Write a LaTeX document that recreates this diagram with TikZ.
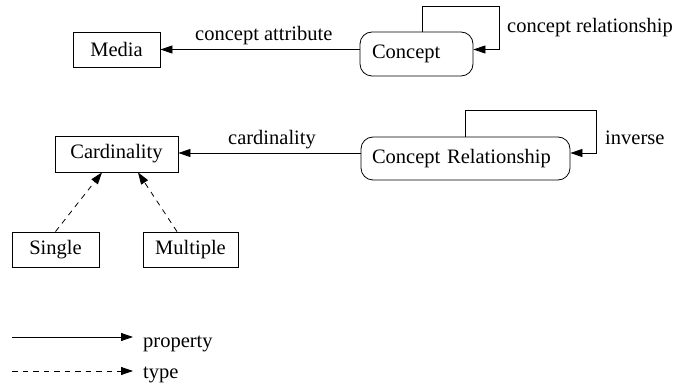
\documentclass[tikz,border=0pt]{standalone}
\usepackage{fontspec}
\setmainfont{Liberation Serif}
\usetikzlibrary{arrows.meta}
\begin{document}
\begin{tikzpicture}[x=1pt,y=-1pt,
  every node/.style={font=\fontsize{20.5}{24}\selectfont},
  sqbox/.style={draw, line width=0.8pt, rectangle, inner sep=0pt},
  rbox/.style={draw, line width=0.8pt, rectangle, rounded corners=12pt, inner ysep=0pt, align=left},
  lbl/.style={inner sep=0pt, anchor=base west},
  prop/.style={draw, line width=0.8pt, -{Triangle[length=12pt,width=8pt]}},
  typ/.style={prop, dash pattern=on 5.5pt off 5pt}]
\useasboundingbox (0,0) rectangle (679,387);
% row 1
\node[sqbox, minimum width=87pt, minimum height=35pt] (media) at (116.5,49.5) {Media};
\node[rbox, minimum height=44pt, inner xsep=12pt, text width=89pt] (concept) at (416.5,54) {Concept};
\node[lbl] (lattr) at (195,41) {concept attribute};
\node[lbl] (lrel) at (507,33) {concept relationship};
\draw[prop] ([yshift=4.5pt]concept.west) coordinate (a1) -- (a1 -| media.east);
\coordinate (l1) at (499,6);
\draw[prop] ([xshift=5.5pt]concept.north) |- (l1) |- ([yshift=4.5pt]concept.east);
% row 2
\node[sqbox, minimum width=123pt, minimum height=36pt] (card) at (116.5,154) {Cardinality};
\node[rbox, minimum height=43pt, inner xsep=11pt, text width=187pt] (crel) at (465.5,158.5) {Concept Relationship};
\node[lbl] (lcard) at (228,145) {cardinality};
\node[lbl] (linv) at (605,145) {inverse};
\draw[prop] ([yshift=5.5pt]crel.west) coordinate (a2) -- (a2 -| card.east);
\coordinate (l2) at (596,110);
\draw[prop] (crel.north) |- (l2) |- ([yshift=5.5pt]crel.east);
% row 3
\node[sqbox, minimum width=87pt, minimum height=35pt] (single) at (55.5,249.5) {Single};
\node[sqbox, minimum width=95pt, minimum height=35pt] (multiple) at (190.5,249.5) {Multiple};
\draw[typ] (single.north) -- ([xshift=-14.5pt]card.south);
\draw[typ] ([xshift=-13.5pt]multiple.north) -- ([xshift=21.5pt]card.south);
% legend
\node[lbl] (lprop) at (143,347) {property};
\node[lbl] (ltype) at (143,378) {type};
\coordinate (p0) at (12,337);
\coordinate (t0) at (12,371);
\draw[prop] (p0) -- (p0 -| 133,0);
\draw[typ] (t0) -- (t0 -| 133,0);
\end{tikzpicture}
\end{document}
